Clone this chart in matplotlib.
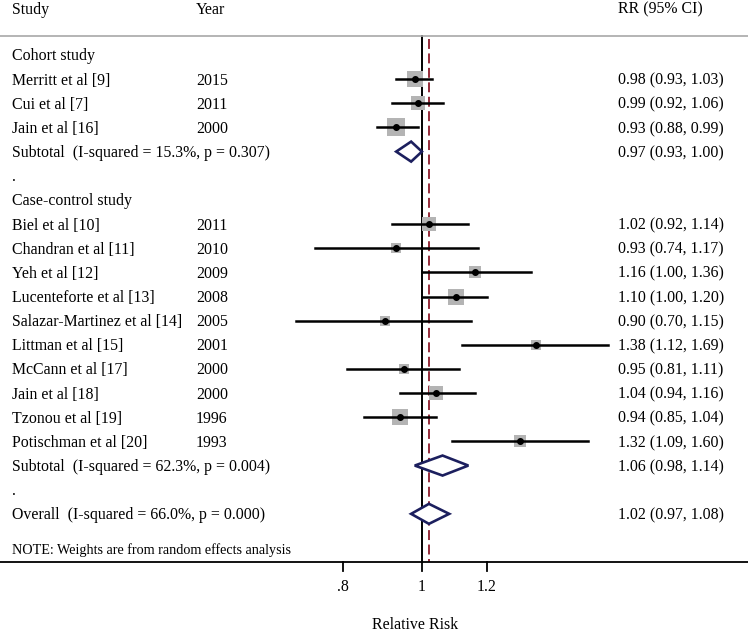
import matplotlib.pyplot as plt
import matplotlib.transforms as mtransforms
from matplotlib.patches import Polygon
import numpy as np

plt.rcParams['font.family'] = ['Liberation Serif', 'DejaVu Serif']

# study rows (label, year, RR, lower, upper, weight %)
cohort_names = ["Merritt et al [9]", "Cui et al [7]", "Jain et al [16]"]
cohort_years = ["2015", "2011", "2000"]
cohort_rr = [0.98, 0.99, 0.93]
cohort_lo = [0.93, 0.92, 0.88]
cohort_hi = [1.03, 1.06, 0.99]
cohort_w = [12.5, 8.0, 13.5]

cc_names = ["Biel et al [10]", "Chandran et al [11]", "Yeh et al [12]",
            "Lucenteforte et al [13]", "Salazar-Martinez et al [14]",
            "Littman et al [15]", "McCann et al [17]", "Jain et al [18]",
            "Tzonou et al [19]", "Potischman et al [20]"]
cc_years = ["2011", "2010", "2009", "2008", "2005", "2001", "2000", "2000",
            "1996", "1993"]
cc_rr = [1.02, 0.93, 1.16, 1.10, 0.90, 1.38, 0.95, 1.04, 0.94, 1.32]
cc_lo = [0.92, 0.74, 1.00, 1.00, 0.70, 1.12, 0.81, 0.94, 0.85, 1.09]
cc_hi = [1.14, 1.17, 1.36, 1.20, 1.15, 1.69, 1.11, 1.16, 1.04, 1.60]
cc_w = [9.5, 4.0, 5.5, 10.0, 3.8, 4.0, 5.0, 8.0, 11.0, 5.5]

sub_labels = ["Subtotal  (I-squared = 15.3%, p = 0.307)",
              "Subtotal  (I-squared = 62.3%, p = 0.004)",
              "Overall  (I-squared = 66.0%, p = 0.000)"]
sub_rr = [0.97, 1.06, 1.02]
sub_lo = [0.93, 0.98, 0.97]
sub_hi = [1.00, 1.14, 1.08]

xticks = [0.8, 1.0, 1.2]
xticklabels = [".8", "1", "1.2"]

W, H = 748, 632
fig = plt.figure(figsize=(W / 100, H / 100), dpi=100)
ax = fig.add_axes([0, 0, 1, 1])
ax.set_xscale('log')
ax.set_xlim(0.304, 2.51)
ax.set_ylim(H, 0)
ax.axis('off')
tr = mtransforms.blended_transform_factory(ax.transAxes, ax.transData)

y0, dy = 55, 24.15
row = lambda i: y0 + i * dy
fs = 11.4
xs, xy, xr = 12 / W, 196 / W, 618 / W
line_blue = '#1c1f5e'


def ci_text(r, l, h):
    return f"{r:.2f} ({l:.2f}, {h:.2f})"


def label(x, y, s, **kw):
    # text centre sits a touch below the row line, like the original
    ax.text(x, y + 1.5, s, transform=tr, fontsize=kw.pop('fontsize', fs),
            va='center', **kw)


def study(i, name, year, r, l, h, w):
    y = row(i)
    label(xs, y, name)
    label(xy, y, year)
    label(xr, y, ci_text(r, l, h))
    side = 4.8 * np.sqrt(w) * 0.72
    ax.scatter([r], [y], marker='s', s=side ** 2, color='#b4b4b4', zorder=2,
               linewidths=0)
    ax.plot([l, h], [y, y], color='black', lw=1.8, zorder=3)
    ax.scatter([r], [y], s=16, color='black', zorder=4)


def diamond(i, text, r, l, h):
    y = row(i)
    label(xs, y, text)
    label(xr, y, ci_text(r, l, h))
    ax.add_patch(Polygon([(l, y), (r, y - 10), (h, y), (r, y + 10)],
                         closed=True, facecolor='white', edgecolor=line_blue,
                         lw=1.9, zorder=5))


# headers
label(xs, 8, "Study")
label(xy, 8, "Year")
label(xr, 8, "RR (95% CI)")
ax.plot([0, 1], [35.5] * 2, transform=tr, color='#a8a8a8', lw=1.2)

# reference lines
axis_y = 562
ax.plot([1, 1], [35.5, axis_y], color='black', lw=1.4, zorder=1)
ax.plot([sub_rr[2]] * 2, [39, axis_y], color='#8b1a2a', lw=1.3,
        ls=(0, (5.5, 2.5)), zorder=1)

label(xs, row(0), "Cohort study")
for k in range(len(cohort_names)):
    study(1 + k, cohort_names[k], cohort_years[k], cohort_rr[k],
          cohort_lo[k], cohort_hi[k], cohort_w[k])
diamond(4, sub_labels[0], sub_rr[0], sub_lo[0], sub_hi[0])
label(xs, row(5), ".")

label(xs, row(6), "Case-control study")
for k in range(len(cc_names)):
    study(7 + k, cc_names[k], cc_years[k], cc_rr[k], cc_lo[k], cc_hi[k],
          cc_w[k])
diamond(17, sub_labels[1], sub_rr[1], sub_lo[1], sub_hi[1])
label(xs, row(18), ".")
diamond(19, sub_labels[2], sub_rr[2], sub_lo[2], sub_hi[2])

label(xs, 549, "NOTE: Weights are from random effects analysis",
      fontsize=10.2)

# x axis
ax.plot([0, 1], [axis_y] * 2, transform=tr, color='black', lw=1.3)
for t, lab in zip(xticks, xticklabels):
    ax.plot([t, t], [axis_y, axis_y + 9], color='black', lw=1.3)
    ax.text(t, 587, lab, fontsize=fs, ha='center', va='center')
ax.text(415 / W, 625, "Relative Risk", transform=tr, fontsize=fs,
        ha='center', va='center')

fig.savefig("out.png", dpi=100)
